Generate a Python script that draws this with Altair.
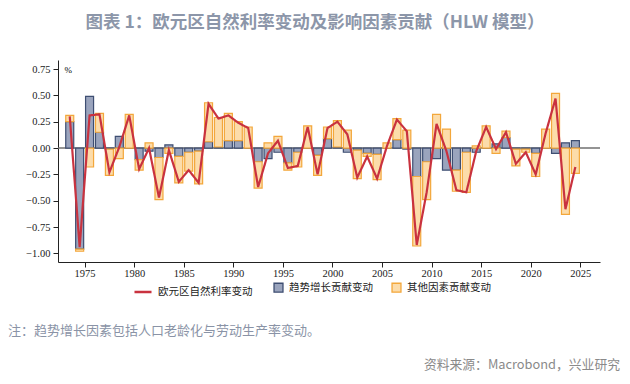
import altair as alt
import pandas as pd

years = list(range(1973, 2025))
trend = [0.25, -0.96, 0.49, 0.15, -0.01, 0.11, 0.00, -0.11, -0.03, -0.09,
         0.03, -0.08, -0.04, -0.03, 0.06, 0.01, 0.07, 0.07, 0.00, -0.13,
         -0.10, -0.04, -0.14, -0.04, 0.00, -0.07, 0.09, 0.01, -0.04, -0.02,
         -0.05, -0.06, 0.00, 0.08, -0.01, -0.27, -0.13, -0.10, -0.21, -0.21,
         -0.04, -0.04, 0.00, 0.04, 0.10, -0.01, -0.01, -0.05, 0.00, -0.05,
         0.05, 0.07]
other = [0.06, -0.02, -0.18, 0.18, -0.25, -0.10, 0.32, -0.10, 0.05, -0.40,
         -0.05, -0.25, -0.18, -0.31, 0.37, 0.28, 0.26, 0.18, 0.20, -0.25,
         0.05, 0.11, -0.07, -0.14, 0.21, -0.19, 0.11, 0.25, 0.17, -0.27,
         -0.03, -0.24, 0.05, 0.20, 0.17, -0.66, -0.36, 0.32, 0.18, -0.20,
         -0.38, 0.02, 0.21, -0.05, 0.06, -0.16, -0.03, -0.22, 0.18, 0.52,
         -0.63, -0.24]
natural = [0.30, -0.94, 0.31, 0.32, -0.23, 0.01, 0.31, -0.20, 0.00, -0.47,
           -0.02, -0.32, -0.21, -0.33, 0.42, 0.28, 0.31, 0.24, 0.19, -0.37,
           -0.05, 0.07, -0.19, -0.17, 0.20, -0.25, 0.19, 0.25, 0.13, -0.28,
           -0.08, -0.29, 0.02, 0.27, 0.16, -0.92, -0.42, 0.23, -0.03, -0.40,
           -0.42, -0.03, 0.20, -0.01, 0.15, -0.15, -0.04, -0.25, 0.14, 0.47,
           -0.58, -0.18]

LINE = "欧元区自然利率变动"
TREND = "趋势增长贡献变动"
OTHER = "其他因素贡献变动"
x_ticks = [1975, 1980, 1985, 1990, 1995, 2000, 2005, 2010, 2015, 2020, 2025]
y_ticks = [0.75, 0.5, 0.25, 0.0, -0.25, -0.5, -0.75, -1.0]

TITLE = "图表 1：欧元区自然利率变动及影响因素贡献（HLW 模型）"
NOTE = "注：趋势增长因素包括人口老龄化与劳动生产率变动。"
SOURCE = "资料来源：Macrobond，兴业研究"

RED = "#c9323f"
NAVY = "#3e4e72"
NAVY_FILL = "#9aa4bd"
ORANGE = "#f3a73b"
ORANGE_FILL = "#fcdcaa"

bars = pd.DataFrame({
    "mid": [y + 0.5 for y in years] * 2,
    "value": trend + other,
    "series": [TREND] * len(years) + [OTHER] * len(years),
    "ord": [0] * len(years) + [1] * len(years),
})
line_df = pd.DataFrame({
    "mid": [y + 0.5 for y in years],
    "value": natural,
    "series": [LINE] * len(years),
})

xscale = alt.Scale(domain=[1972.82, 2026.48], nice=False, zero=False)
yscale = alt.Scale(domain=[-1.082, 0.836], nice=False, zero=False)

LEG_FONT = dict(labelFont="Noto Sans CJK SC", labelFontSize=10.5, labelColor="#222",
                labelOffset=5, labelLimit=300, title=None, orient="none",
                direction="horizontal")

bar_legend = alt.Legend(legendX=215, legendY=222, symbolType="square", symbolSize=80,
                        symbolStrokeWidth=1.3, symbolOpacity=1, columnPadding=16, **LEG_FONT)
line_legend = alt.Legend(legendX=75, legendY=222, symbolType="stroke", symbolSize=290,
                         symbolStrokeWidth=2.5, symbolStrokeColor=RED, columnPadding=6, **LEG_FONT)

x_axis = alt.Axis(values=x_ticks, format="d", title=None, grid=False,
                  tickSize=5, labelPadding=1)
y_axis = alt.Axis(values=y_ticks, format=".2f", title="%", grid=False,
                  tickSize=5, labelPadding=3, titleAngle=0, titleX=6, titleY=9,
                  titleAlign="left", titleBaseline="middle", titleFontSize=9,
                  titleFont="Liberation Serif", titleFontWeight="normal")

zero = alt.Chart(pd.DataFrame({"z": [0]})).mark_rule(color="#707070", strokeWidth=1.5).encode(
    y=alt.Y("z:Q", scale=yscale, axis=y_axis)
)

bar_scale_fill = alt.Scale(domain=[TREND, OTHER], range=[NAVY_FILL, ORANGE_FILL])
bar_scale_stroke = alt.Scale(domain=[TREND, OTHER], range=[NAVY, ORANGE])

bar_layer = alt.Chart(bars).mark_bar(width=8, strokeWidth=1.2).encode(
    x=alt.X("mid:Q", scale=xscale, axis=x_axis),
    y=alt.Y("value:Q", scale=yscale, stack="zero", axis=y_axis),
    fill=alt.Fill("series:N", scale=bar_scale_fill, legend=bar_legend),
    stroke=alt.Stroke("series:N", scale=bar_scale_stroke, legend=bar_legend),
    order=alt.Order("ord:Q"),
)

line_layer = alt.Chart(line_df).mark_line(strokeWidth=2.2, color=RED).encode(
    x=alt.X("mid:Q", scale=xscale, axis=x_axis),
    y=alt.Y("value:Q", scale=yscale, axis=y_axis),
    strokeDash=alt.StrokeDash("series:N", scale=alt.Scale(domain=[LINE], range=[[1, 0]]),
                              legend=line_legend),
)

note = alt.Chart(pd.DataFrame({"t": [NOTE]})).mark_text(
    align="left", baseline="middle", font="Noto Sans CJK SC", fontSize=13, color="#8a93a6"
).encode(text="t:N", x=alt.value(-50), y=alt.value(271))

source = alt.Chart(pd.DataFrame({"t": [SOURCE]})).mark_text(
    align="right", baseline="middle", font="Noto Sans CJK SC", fontSize=12.8, color="#8a8a8a"
).encode(text="t:N", x=alt.value(562), y=alt.value(305))

chart = alt.layer(zero, bar_layer, line_layer, note, source).properties(
    width=542, height=202,
    padding={"left": 50, "top": 52, "right": 22, "bottom": 114},
    autosize=alt.AutoSizeParams(type="none"),
    title=alt.TitleParams(TITLE, anchor="middle", frame="group", dx=-14, offset=29,
                          font="Noto Sans CJK SC", fontSize=17.5, fontWeight="bold",
                          color="#8c96a9"),
).configure_view(stroke=None).configure_axis(
    domainColor="#222", tickColor="#222", labelColor="#222",
    labelFont="Liberation Serif", labelFontSize=10.5,
)

chart.save("out.html", embed_options={"renderer": "svg", "actions": False})
